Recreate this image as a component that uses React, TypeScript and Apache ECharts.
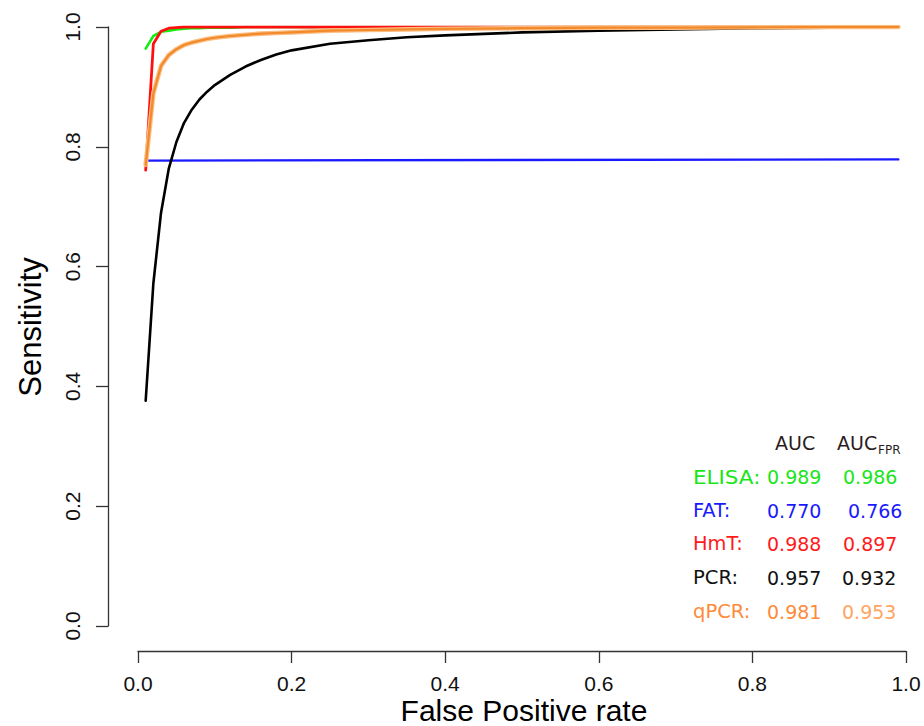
import React, { useEffect, useRef } from "react";
import * as echarts from "echarts";

// ---- data ----
const fprGrid = [0.01, 0.02, 0.03, 0.04, 0.05, 0.06, 0.07, 0.08, 0.09, 0.1, 0.12, 0.14, 0.16, 0.18, 0.2, 0.25, 0.3, 0.35, 0.4, 0.5, 0.6, 0.7, 0.8, 0.9, 0.99];
const elisaSens = [0.964, 0.985, 0.992, 0.994, 0.996, 0.997, 0.998, 0.998, 0.999, 0.999, 0.999, 1, 1, 1, 1, 1, 1, 1, 1, 1, 1, 1, 1, 1, 1];
const hmtSens = [0.761, 0.972, 0.993, 0.998, 0.999, 1, 1, 1, 1, 1, 1, 1, 1, 1, 1, 1, 1, 1, 1, 1, 1, 1, 1, 1, 1];
const pcrSens = [0.376, 0.572, 0.69, 0.763, 0.808, 0.84, 0.862, 0.879, 0.892, 0.903, 0.92, 0.934, 0.945, 0.954, 0.961, 0.972, 0.978, 0.983, 0.986, 0.991, 0.994, 0.996, 0.998, 0.999, 1.0];
const qpcrSens = [0.77, 0.889, 0.935, 0.953, 0.963, 0.97, 0.974, 0.977, 0.98, 0.982, 0.985, 0.987, 0.989, 0.99, 0.991, 0.994, 0.995, 0.996, 0.997, 0.998, 0.999, 0.999, 0.9995, 1, 1];
const fatFpr = [0.01, 0.99];
const fatSens = [0.777, 0.779];

const xTicks = [0, 0.2, 0.4, 0.6, 0.8, 1.0];
const yTicks = [0, 0.2, 0.4, 0.6, 0.8, 1.0];

const methodNames = ["ELISA:", "FAT:", "HmT:", "PCR:", "qPCR:"];
const aucValues = ["0.989", "0.770", "0.988", "0.957", "0.981"];
const aucFprValues = ["0.986", "0.766", "0.897", "0.932", "0.953"];

const zip = (xs: number[], ys: number[]) => xs.map((x, i) => [x, ys[i]]);

export default function App() {
  const ref = useRef<HTMLDivElement>(null);
  useEffect(() => {
    if (!ref.current) return;
    const chart = echarts.init(ref.current, undefined, { renderer: "svg" });

    const labelColors = ["#19e619", "#1a1aff", "#ff1a1a", "#111111", "#ff8a3a"];
    const col1Colors = ["#19e619", "#1a1aff", "#ff1a1a", "#111111", "#ff8a3a"];
    const col2Colors = ["#19e619", "#1a1aff", "#ff1a1a", "#111111", "#ffa561"];
    const labelScale = [1.13, 1.02, 1.02, 1.03, 1.03];
    const rowY = [477, 511, 544, 578, 612];
    const col2X = [843, 848, 843, 842, 842];
    const legendFont = "DejaVu Sans";

    const graphics: any[] = [];
    graphics.push({
      type: "text", x: 775, y: 443,
      style: { text: "AUC", fontSize: 19, fontFamily: legendFont, fill: "#2b1d1d", textVerticalAlign: "middle" },
    });
    graphics.push({
      type: "text", x: 837, y: 443,
      style: { text: "AUC", fontSize: 19, fontFamily: legendFont, fill: "#2b1d1d", textVerticalAlign: "middle" },
    });
    graphics.push({
      type: "text", x: 878, y: 450,
      style: { text: "FPR", fontSize: 12, fontFamily: legendFont, fill: "#2b1d1d", textVerticalAlign: "middle" },
    });
    methodNames.forEach((name, i) => {
      graphics.push({
        type: "text", x: 693, y: rowY[i], scaleX: labelScale[i],
        style: { text: name, fontSize: 19, fontFamily: legendFont, fill: labelColors[i], textVerticalAlign: "middle" },
      });
      graphics.push({
        type: "text", x: 767, y: rowY[i],
        style: { text: aucValues[i], fontSize: 19, fontFamily: legendFont, fill: col1Colors[i], textVerticalAlign: "middle" },
      });
      graphics.push({
        type: "text", x: col2X[i], y: rowY[i],
        style: { text: aucFprValues[i], fontSize: 19, fontFamily: legendFont, fill: col2Colors[i], textVerticalAlign: "middle" },
      });
    });
    graphics.push({
      type: "text", x: 524, y: 710,
      style: { text: "False Positive rate", fontSize: 30, fontFamily: "Liberation Sans", fill: "#000", textAlign: "center", textVerticalAlign: "middle" },
    });
    graphics.push({
      type: "text", x: 30, y: 327, rotation: Math.PI / 2,
      style: { text: "Sensitivity", fontSize: 31, fontFamily: "Liberation Sans", fill: "#000", textAlign: "center", textVerticalAlign: "middle" },
    });

    const axisCommon = {
      type: "value" as const,
      min: 0,
      max: 1,
      interval: 0.2,
      splitLine: { show: false },
      axisLine: { show: true, onZero: false, lineStyle: { color: "#333", width: 1.3 } },
      axisTick: { show: true, inside: false, length: 12, lineStyle: { color: "#333", width: 1.3 } },
    };

    const lineSeries = (name: string, data: number[][], color: string, width: number, z = 2) => ({
      name,
      type: "line",
      data,
      showSymbol: false,
      symbol: "none",
      z,
      lineStyle: { color, width, cap: "round", join: "round" },
    });

    chart.setOption({
      animation: false,
      backgroundColor: "#ffffff",
      grid: { left: 138, right: 18, top: 27, bottom: 100, containLabel: false },
      xAxis: {
        ...axisCommon,
        position: "bottom",
        offset: 25,
        axisLabel: {
          margin: 23,
          fontSize: 21,
          lineHeight: 18,
          fontFamily: "Liberation Sans Narrow, Liberation Sans",
          color: "#111",
          formatter: (v: number) => (xTicks.includes(+v.toFixed(1)) ? v.toFixed(1) : ""),
        },
      },
      yAxis: {
        ...axisCommon,
        position: "left",
        offset: 30,
        axisLabel: {
          margin: 27,
          rotate: 90,
          fontSize: 21,
          lineHeight: 18,
          fontFamily: "Liberation Sans Narrow, Liberation Sans",
          color: "#111",
          formatter: (v: number) => (yTicks.includes(+v.toFixed(1)) ? v.toFixed(1) : ""),
        },
      },
      graphic: graphics,
      series: [
        lineSeries("ELISA", zip(fprGrid, elisaSens), "#11ee11", 2.6, 2),
        lineSeries("FAT", zip(fatFpr, fatSens), "#1a1aff", 2.4, 3),
        lineSeries("HmT", zip(fprGrid, hmtSens), "#ff1010", 2.8, 4),
        lineSeries("PCR", zip(fprGrid, pcrSens), "#000000", 2.6, 5),
        lineSeries("qPCR halo", zip(fprGrid, qpcrSens), "#fbbd80", 4.6, 6),
        lineSeries("qPCR", zip(fprGrid, qpcrSens), "#f2892a", 2.2, 7),
      ],
    });
    return () => chart.dispose();
  }, []);
  return <div ref={ref} style={{ position: "fixed", left: 0, top: 0, width: 924, height: 726, background: "#fff" }} />;
}
